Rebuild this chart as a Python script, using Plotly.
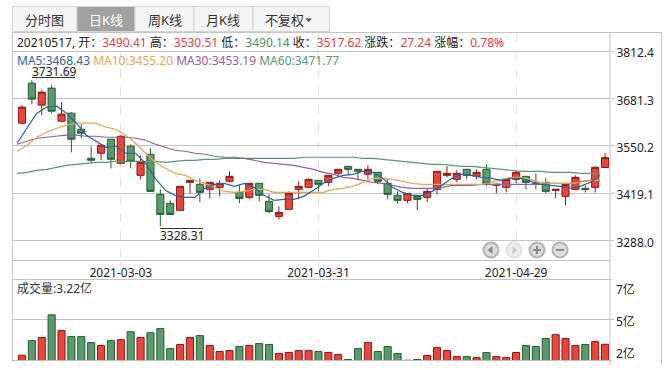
import plotly.graph_objects as go
import pandas as pd

W, H = 670, 370
FONT = "Noto Sans, Noto Sans CJK SC, sans-serif"

first_date = ["2021-02-10"]
dates = first_date + [d.strftime("%Y-%m-%d") for d in pd.bdate_range("2021-02-18", "2021-05-17")
                      if d.strftime("%Y-%m-%d") not in ("2021-04-05", "2021-05-03", "2021-05-04", "2021-05-05")]

opens = [3612.8,3723.7,3662.7,3709.9,3618.4,3640.6,3596.2,3515.8,3529.7,3568.5,
         3501.9,3549.1,3468.7,3526.9,3416.0,3391.1,3371.7,3449.3,3443.8,3429.9,
         3435.4,3452.1,3421.6,3407.7,3446.5,3396.6,3355.1,3374.5,3429.9,3435.4,
         3454.8,3449.3,3474.2,3493.6,3485.3,3471.5,3477.0,3446.5,3413.3,3399.4,
         3410.5,3407.7,3429.9,3468.7,3457.6,3485.3,3465.9,3485.3,3441.0,3435.4,
         3457.6,3465.9,3446.5,3449.3,3427.1,3410.5,3429.9,3432.7,3435.4,3490.41]
highs = [3662.7,3731.69,3704.3,3718.2,3671.1,3643.3,3610.1,3549.1,3551.9,3568.5,
         3579.6,3554.6,3524.1,3543.5,3429.9,3399.4,3438.2,3454.8,3460.4,3449.3,
         3454.8,3479.8,3441.0,3446.5,3446.5,3416.0,3382.8,3424.3,3452.1,3460.4,
         3454.8,3468.7,3485.3,3493.6,3485.3,3496.4,3477.0,3457.6,3424.3,3418.8,
         3410.5,3432.7,3479.8,3493.6,3482.6,3485.3,3485.3,3499.2,3446.5,3457.6,
         3482.6,3465.9,3474.2,3460.4,3429.9,3443.8,3468.7,3441.0,3493.6,3530.51]
lows = [3610.1,3665.5,3635.0,3640.6,3615.6,3532.4,3571.3,3501.9,3510.3,3488.1,
        3499.2,3488.1,3457.6,3424.3,3328.31,3360.6,3371.7,3418.8,3393.9,3404.9,
        3410.5,3449.3,3391.1,3402.2,3396.6,3363.4,3346.8,3374.5,3402.2,3435.4,
        3424.3,3438.2,3468.7,3471.5,3454.8,3457.6,3443.8,3402.2,3391.1,3391.1,
        3371.7,3393.9,3416.0,3463.2,3449.3,3457.6,3457.6,3438.2,3418.8,3421.6,
        3446.5,3429.9,3429.9,3418.8,3404.9,3385.5,3427.1,3421.6,3421.6,3490.14]
closes = [3657.2,3679.4,3698.8,3646.1,3637.8,3568.5,3585.1,3510.3,3551.9,3513.0,
          3576.8,3507.5,3504.7,3424.3,3360.6,3360.6,3438.2,3454.8,3421.6,3449.3,
          3446.5,3465.9,3404.9,3446.5,3413.3,3368.9,3366.2,3418.8,3438.2,3457.6,
          3443.8,3468.7,3485.3,3485.3,3479.8,3485.3,3452.1,3416.0,3399.4,3418.8,
          3402.2,3424.3,3479.8,3474.2,3474.2,3468.7,3477.0,3446.5,3443.8,3457.6,
          3477.0,3449.3,3443.8,3424.3,3429.9,3443.8,3463.2,3429.9,3490.9,3517.62]
ma5 = [3557.4,3599.0,3640.6,3657.2,3660.0,3640.6,3612.8,3579.6,3562.9,3546.3,
       3549.1,3529.7,3529.7,3501.9,3460.4,3427.1,3413.3,3407.7,3407.7,3432.7,
       3443.8,3446.5,3438.2,3446.5,3435.4,3413.3,3399.4,3402.2,3402.2,3410.5,
       3427.1,3446.5,3460.4,3468.7,3471.5,3479.8,3477.0,3460.4,3435.4,3421.6,
       3413.3,3413.3,3424.3,3441.0,3460.4,3471.5,3468.7,3463.2,3460.4,3454.8,
       3460.4,3460.4,3452.1,3443.8,3441.0,3438.2,3432.7,3438.2,3449.3,3468.43]
ma10 = [3535.2,3551.9,3574.0,3587.9,3599.0,3607.3,3612.8,3612.8,3612.8,3601.8,
        3596.2,3579.6,3557.4,3529.7,3504.7,3488.1,3474.2,3468.7,3454.8,3446.5,
        3435.4,3424.3,3421.6,3424.3,3429.9,3429.9,3421.6,3421.6,3421.6,3421.6,
        3421.6,3421.6,3429.9,3432.7,3438.2,3449.3,3460.4,3460.4,3457.6,3452.1,
        3446.5,3443.8,3443.8,3443.8,3443.8,3443.8,3443.8,3443.8,3449.3,3457.6,
        3463.2,3463.2,3457.6,3449.3,3446.5,3446.5,3446.5,3449.3,3454.8,3455.20]
ma30 = [3554.6,3562.9,3571.3,3574.0,3576.8,3579.6,3579.6,3576.8,3576.8,3574.0,
        3574.0,3574.0,3571.3,3565.7,3554.6,3546.3,3538.0,3535.2,3529.7,3526.9,
        3521.4,3518.6,3518.6,3515.8,3510.3,3504.7,3501.9,3499.2,3496.4,3490.9,
        3485.3,3477.0,3471.5,3463.2,3460.4,3454.8,3449.3,3446.5,3441.0,3435.4,
        3432.7,3432.7,3432.7,3435.4,3441.0,3441.0,3441.0,3443.8,3443.8,3443.8,
        3443.8,3443.8,3443.8,3443.8,3446.5,3446.5,3446.5,3452.1,3454.8,3453.19]
ma60 = [3474.2,3477.0,3482.6,3485.3,3490.9,3496.4,3499.2,3501.9,3504.7,3504.7,
        3507.5,3507.5,3507.5,3507.5,3507.5,3504.7,3507.5,3510.3,3510.3,3513.0,
        3513.0,3515.8,3515.8,3515.8,3515.8,3515.8,3515.8,3515.8,3515.8,3518.6,
        3518.6,3518.6,3518.6,3518.6,3518.6,3515.8,3515.8,3513.0,3510.3,3507.5,
        3504.7,3501.9,3499.2,3499.2,3496.4,3493.6,3493.6,3490.9,3488.1,3485.3,
        3482.6,3479.8,3479.8,3479.8,3477.0,3477.0,3477.0,3474.2,3474.2,3471.77]
volumes = [2.44,3.48,3.70,5.33,4.20,3.77,3.77,3.34,3.13,3.48,
           3.55,4.12,3.70,4.05,4.34,2.91,3.20,3.70,3.84,3.13,
           2.70,2.77,3.06,3.13,3.27,3.20,2.56,2.63,2.77,2.77,
           2.70,2.63,2.49,2.13,2.91,3.34,2.70,3.06,2.56,2.08,
           2.13,2.42,2.99,2.77,2.34,2.34,2.27,2.63,2.34,2.27,
           2.63,3.13,3.06,3.63,3.91,3.63,3.13,3.20,3.41,3.22]
price_ticks = [3812.4, 3681.3, 3550.2, 3419.1, 3288.0]
date_ticks = ["2021-03-03", "2021-03-31", "2021-04-29"]
tabs = ["分时图", "日K线", "周K线", "月K线", "不复权"]

RED, RED_D = "#e8453c", "#8c1a17"
GRN, GRN_D = "#5a9a6e", "#22602c"
BLUE, ORANGE, PURPLE, TEAL = "#2b6596", "#e4a655", "#93609f", "#559a72"
TXT_RED, TXT_GRN, TXT = "#ee3b38", "#4a9065", "#222222"
GRID = "#c4c4c4"


def px(x):
    return x / W


def py(y):
    return 1 - y / H


X0, X1 = 12.5, 610.0
Y_TOP, Y_MID, Y_VOL, Y_BOT = 32.5, 260.5, 279.5, 360.5
x_range = [-0.96, 59.5]

fig = go.Figure()
fig.add_trace(go.Candlestick(
    x=dates, open=opens, high=highs, low=lows, close=closes,
    increasing=dict(line=dict(color=RED_D, width=1), fillcolor=RED),
    decreasing=dict(line=dict(color=GRN_D, width=1), fillcolor=GRN),
    whiskerwidth=0, showlegend=False, hoverinfo="skip", xaxis="x", yaxis="y"))
for vals, col in ((ma60, TEAL), (ma30, PURPLE), (ma10, ORANGE), (ma5, BLUE)):
    fig.add_trace(go.Scatter(x=dates, y=vals, mode="lines", line=dict(color=col, width=1.2),
                             showlegend=False, hoverinfo="skip", xaxis="x2", yaxis="y"))
vol_fill = [RED if c >= o else GRN for o, c in zip(opens, closes)]
vol_line = [RED_D if c >= o else GRN_D for o, c in zip(opens, closes)]
fig.add_trace(go.Bar(x=dates, y=volumes, width=0.72,
                     marker=dict(color=vol_fill, line=dict(color=vol_line, width=1)),
                     showlegend=False, hoverinfo="skip", xaxis="x3", yaxis="y2"))

dom_x = [px(X0), px(X1)]
cat = dict(type="category", categoryorder="array", categoryarray=dates)
fig.update_layout(
    width=W, height=H, margin=dict(l=0, r=0, t=0, b=0), autosize=False,
    paper_bgcolor="white", plot_bgcolor="white", showlegend=False, boxgap=0.28, boxgroupgap=0,
    font=dict(family=FONT, size=12, color=TXT),
    xaxis=dict(**cat, domain=dom_x, range=x_range, anchor="y", rangeslider=dict(visible=False),
               tickmode="array", tickvals=date_ticks, ticktext=date_ticks, ticks="outside", ticklen=1,
               tickcolor="#dddddd", showgrid=True, gridcolor="#e2e2e2", griddash="dash", gridwidth=1,
               showline=False, zeroline=False, tickfont=dict(size=12, color=TXT)),
    xaxis2=dict(**cat, domain=dom_x, range=[x_range[0] + 0.5, x_range[1] + 0.5], anchor="y",
                overlaying="x", visible=False),
    xaxis3=dict(**cat, domain=dom_x, range=x_range, anchor="y2", showticklabels=False,
                showgrid=False, ticks="", showline=False, zeroline=False),
    yaxis=dict(domain=[py(Y_MID), py(Y_TOP)], range=[3233.1, 3863.7], side="right", anchor="x",
               tickmode="array", tickvals=price_ticks, ticktext=[f"{v:.1f}" for v in price_ticks],
               ticks="outside", ticklen=3, tickcolor=GRID, gridcolor=GRID, gridwidth=1,
               ticklabelshift=2, zeroline=False, showline=False, tickfont=dict(size=12, color=TXT)),
    yaxis2=dict(domain=[py(Y_BOT), py(Y_VOL)], range=[2.06, 7.85], side="right", anchor="x3",
                tickmode="array", tickvals=[5], ticktext=[""], ticks="outside", ticklen=3,
                tickcolor=GRID, gridcolor=GRID, gridwidth=1, zeroline=False, showline=False),
)

shapes, ann = [], []


def line(x0, y0, x1, y1, color=GRID, width=1):
    shapes.append(dict(type="line", xref="paper", yref="paper", x0=px(x0), y0=py(y0), x1=px(x1), y1=py(y1),
                       line=dict(color=color, width=width)))


def text(x, y, s, color=TXT, anchor="left", size=12):
    ann.append(dict(xref="paper", yref="paper", x=px(x), y=py(y), text=s, showarrow=False, xanchor=anchor,
                    yanchor="middle", xshift=0, font=dict(family=FONT, size=size, color=color),
                    borderpad=0, borderwidth=0))


# frame
line(X0, Y_TOP, 661.5, Y_TOP)
line(X0, Y_TOP, X0, 362)
line(X1, Y_TOP, X1, 365)
line(661.5, Y_TOP, 661.5, 365)
line(X0, Y_MID, X1, Y_MID)
line(X0, Y_VOL, X1 + 2, Y_VOL)
line(X0, Y_BOT, X1 + 2, Y_BOT)
for d in date_ticks:
    shapes.append(dict(type="line", xref="x", yref="paper", x0=d, x1=d, y0=py(260.5), y1=py(267),
                       line=dict(color="#dddddd", width=1)))

# tabs
tab_edges = [12.5, 77, 135, 194, 253, 329.5]
for i, s in enumerate(tabs):
    active = i == 1
    shapes.append(dict(type="rect", xref="paper", yref="paper", x0=px(tab_edges[i]), x1=px(tab_edges[i + 1]),
                       y0=py(6.5), y1=py(31.5), fillcolor="#a1a1a1" if active else "#f5f5f5",
                       line=dict(color="#d4d4d4", width=1)))
    cx = (tab_edges[i] + tab_edges[i + 1]) / 2
    if i == 4:
        cx -= 7
    text(cx, 19.5, s, "#ffffff" if active else "#333333", "center", 13)
shapes.append(dict(type="path", xref="paper", yref="paper", fillcolor="#555555", line=dict(width=0),
                   path=f"M{px(305)},{py(18.5)} L{px(312)},{py(18.5)} L{px(308.5)},{py(22)} Z"))

# info rows
o, h, l, c = opens[-1], highs[-1], lows[-1], closes[-1]
def sp(s, col):
    return f'<span style="color:{col}">{s}</span>'
info = (sp("20210517, 开：", TXT) + sp(f"{o:.2f}", TXT_RED) + sp(" 高：", TXT) + sp(f"{h:.2f}", TXT_RED)
        + sp(" 低：", TXT) + sp(f"{l:.2f}", TXT_GRN) + sp(" 收：", TXT) + sp(f"{c:.2f}", TXT_RED)
        + sp(" 涨跌：", TXT) + sp("27.24", TXT_RED) + sp(" 涨幅：", TXT) + sp("0.78%", TXT_RED))
text(16.5, 42.5, info)
mas = (sp(f"MA5:{ma5[-1]:.2f}", BLUE) + " " + sp(f"MA10:{ma10[-1]:.2f}", ORANGE) + " "
       + sp(f"MA30:{ma30[-1]:.2f}", PURPLE) + " " + sp(f"MA60:{ma60[-1]:.2f}", TEAL))
text(16.5, 60.5, mas)
text(31.5, 71.5, f"{max(highs):.2f}")
line(32, 77.5, 75, 77.5, "#333333")
text(159.5, 235.5, f"{min(lows):.2f}")
line(160, 228.5, 203, 228.5, "#333333")
text(16.5, 288.5, "成交量:3.22亿", "#333333")
text(615.5, 289.5, "7亿")
text(615.5, 321.5, "5亿")
text(615.5, 353.5, "2亿")

# zoom buttons
for i, cx in enumerate((491, 514, 537, 560)):
    faded = i == 1
    shapes.append(dict(type="circle", xref="paper", yref="paper", x0=px(cx - 7.5), x1=px(cx + 7.5),
                       y0=py(250 + 7.5), y1=py(250 - 7.5), fillcolor="#ececec" if faded else "#dcdcdc",
                       line=dict(color="#e0e0e0" if faded else "#b4b4b4", width=2)))
GLY = "#8a8a8a"
shapes.append(dict(type="path", xref="paper", yref="paper", fillcolor=GLY, line=dict(width=0),
                   path=f"M{px(487.5)},{py(250)} L{px(492.5)},{py(246)} L{px(492.5)},{py(254)} Z"))
shapes.append(dict(type="path", xref="paper", yref="paper", fillcolor="#cfcfcf", line=dict(width=0),
                   path=f"M{px(517.5)},{py(250)} L{px(512.5)},{py(246)} L{px(512.5)},{py(254)} Z"))
line(533, 250, 541, 250, GLY, 2)
line(537, 246, 537, 254, GLY, 2)
line(556, 250, 564, 250, GLY, 2)

fig.update_layout(shapes=shapes, annotations=ann)
fig.write_html("out.html", include_plotlyjs=True, config=dict(displayModeBar=False),
               post_script="document.body.style.margin='0';document.body.style.overflow='hidden';")
